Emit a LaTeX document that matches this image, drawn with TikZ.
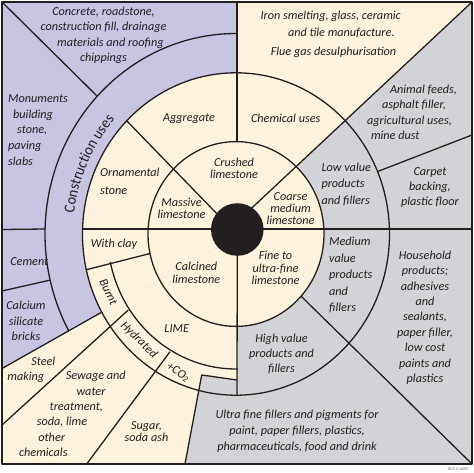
\documentclass[tikz,border=0pt]{standalone}
\usepackage{fontspec}
\setmainfont{Carlito}
\newfontfamily\cufam[FakeStretch=0.92]{Carlito}
\usetikzlibrary{calc,decorations.text}
\definecolor{cream}{HTML}{FDF3DC}
\definecolor{lav}{HTML}{C8C5E3}
\definecolor{grayf}{HTML}{D2D3D6}
\definecolor{ink}{HTML}{231F20}
\newcommand\lf[1]{\fontsize{12.2}{#1}\selectfont\itshape}
\newcommand\cufont{\cufam\fontsize{15.5}{18}\selectfont}
\begin{document}
\begin{tikzpicture}[x=1pt,y=-1pt,
  ln/.style={draw=ink, line width=1.3pt, line join=round},
  lab/.style={font=\lf{15.5}, text=ink, inner sep=0pt, align=center},
  ll/.style={lab, text height=8pt, text depth=2.5pt},
  inner/.style={lab, font=\lf{12.2}}]
\useasboundingbox (0,0) rectangle (474,472);
\coordinate (O) at (236,234);
\coordinate (D) at (237.3,229.5);
\coordinate (TL) at (2,2);
\coordinate (TR) at (472,2);
\coordinate (BR) at (472,464);
\coordinate (BL) at (2,464);
% background fills
\fill[cream] (TL) rectangle (BR);
\begin{scope}
  \clip (2,2) -- (237,2) -- (237,236) -- (2,368.5) -- cycle;
  \fill[lav] (0,0) rectangle (474,472);
  \fill[cream] (O) ellipse [x radius=153.5pt, y radius=161.2pt];
\end{scope}
\begin{scope}
  \clip (472,2) -- (240,219) -- (237,229) -- (237,380) -- (201.7,375) -- (185,464) -- (472,464) -- cycle;
  \fill[grayf] (0,0) rectangle (474,472);
  \fill[cream] (O) ellipse [x radius=88pt, y radius=92.4pt];
\end{scope}
% lines
\draw[ln] (TL) rectangle (BR);
\draw[ln] (O) ellipse [x radius=88pt, y radius=92.4pt];
\draw[ln] (O) ellipse [x radius=153.5pt, y radius=161.2pt];
\draw[ln] ($(O)+(89.5:191pt and 200.5pt)$) arc[start angle=89.5, end angle=209, x radius=191pt, y radius=200.5pt];
\draw[ln] ($(O)+(192:128.5pt and 135pt)$) arc[start angle=192, end angle=271, x radius=128.5pt, y radius=135pt];
\draw[ln] (237,2) -- (237,141.6);
\draw[ln] (D) -- (237,395.2);
\draw[ln] (TL |- D) -- (45.1,229);
\draw[ln] (82.6,229) -- (472,229);
\draw[ln] (TR) -- (240,219);
\draw[ln] (TL) -- ($(O)+(136.6:191pt and 200.5pt)$);
\draw[ln] ($(O)+(135.4:153.5pt and 161.2pt)$) -- (222,219);
\draw[ln] ($(O)+(-42.3:88pt and 92.4pt)$) -- (BR);
\draw[ln] ($(O)+(192.2:88pt and 92.4pt)$) -- ($(O)+(192.8:153.5pt and 161.2pt)$);
\draw[ln] ($(O)+(193.3:191pt and 200.5pt)$) -- (2,291);
\draw[ln] ($(O)+(209:153.5pt and 161.2pt)$) -- (2,368.5);
\draw[ln] (128.3,310) -- (2,425);
\draw[ln] (170,351.7) -- (86.7,464);
\draw[ln] (237,380) -- (201.7,375) -- (185,464);
\draw[ln] ($(O)+(22.8:153.5pt and 161.2pt)$) -- (472,135);
\fill[ink] (D) circle[radius=26.3pt];
% ring text
\path[decorate, decoration={text along path, text align=center, text color=ink,
  text={|\cufont|Construction uses}}]
  ($(O)+(205:163pt and 171.2pt)$) arc[start angle=205, end angle=105, x radius=163pt, y radius=171.2pt];
% labels
\node[lab] (concrete) at (103.5,35.5) {Concrete, roadstone,\\construction fill, drainage\\\hspace*{14pt}materials and roofing\\chippings};
\node[lab, font=\lf{15.8}, align=left, anchor=west] (monuments) at (8,130) {Monuments\\\hspace*{5pt}building\\\hspace*{9pt}stone,\\paving\\slabs};
\node[ll] (cement) at (29.3,262.7) {Cement};
\node[lab, font=\lf{15.8}] (calcium) at (26,321) {Calcium\\silicate\\bricks};
\node[ll] (aggregate) at (189,119) {Aggregate};
\node[lab, font=\lf{17.3}, align=left, anchor=west] (ornamental) at (100,181.3) {Ornamental\\stone};
\node[inner] (massive) at (181.5,208) {Massive\\limestone};
\node[inner] (crushed) at (234,168.3) {Crushed\\limestone};
\node[inner] (coarse) at (290.5,208.7) {Coarse\\medium\\limestone};
\node[inner] (calcined) at (196.3,272.8) {Calcined\\limestone};
\node[inner] (fine) at (275.5,268) {Fine to\\ultra-fine\\limestone};
\node[ll] (chemical) at (285.7,119.3) {Chemical uses};
\node[ll] (iron1) at (330.7,16.7) {Iron smelting, glass, ceramic};
\node[ll] (iron2) at (341.3,33.3) {and tile manufacture.};
\node[ll] (iron3) at (333.5,52.3) {Flue gas desulphurisation};
\node[ll] (clay) at (114,244.3) {With clay};
\node[ll] (lime) at (176.7,330) {LIME};
\node[ll, rotate=-64] (burnt) at (107.5,292.5) {Burnt};
\node[ll, rotate=-44] (hydrated) at (138.5,340.5) {Hydrated};
\node[ll, rotate=-32] (co2) at (178,373) {+CO\textsubscript{2}};
\node[ll] (steel1) at (43.3,362.7) {Steel};
\node[ll] (steel2) at (25.8,377.3) {making};
\node[ll] (sew1) at (95.8,377) {Sewage and};
\node[ll] (sew2) at (91,392.7) {water};
\node[ll] (sew3) at (76.3,407.7) {treatment,};
\node[ll] (sew4) at (62,423) {soda, lime};
\node[ll] (sew5) at (51.7,438.7) {other};
\node[ll] (sew6) at (43.3,453.7) {chemicals};
\node[inner] (sugar) at (146.5,431.2) {Sugar,\\soda ash};
\node[ll] (animal1) at (423.5,90.7) {Animal feeds,};
\node[ll] (animal2) at (414,106) {asphalt filler,};
\node[ll] (animal3) at (409.5,121.7) {agricultural uses,};
\node[ll] (animal4) at (395.3,136.7) {mine dust};
\node[lab, font=\lf{16.7}, align=left, anchor=west] (low) at (321.3,184.3) {Low value\\products\\and fillers};
\node[lab, font=\lf{15.2}] (carpet) at (430,187.5) {Carpet\\backing,\\plastic floor};
\node[lab, font=\lf{16.5}, align=left, anchor=west] (medium) at (329,275) {Medium\\value\\products\\and\\fillers};
\node[lab, font=\lf{15.4}] (household) at (425,317.7) {Household\\products;\\adhesives\\and\\sealants,\\paper filler,\\low cost\\paints and\\plastics};
\node[lab, font=\lf{15.3}] (high) at (281.5,354) {High value\\products and\\fillers};
\node[lab, font=\lf{16.2}] (ultra) at (297,431) {Ultra fine fillers and pigments for\\paint, paper fillers, plastics,\\pharmaceuticals, food and drink};
\node[font=\fontsize{4}{4}\selectfont, text=black!60, inner sep=0pt] (bgs) at (458.3,469) {BGS © NERC};
\end{tikzpicture}
\end{document}
